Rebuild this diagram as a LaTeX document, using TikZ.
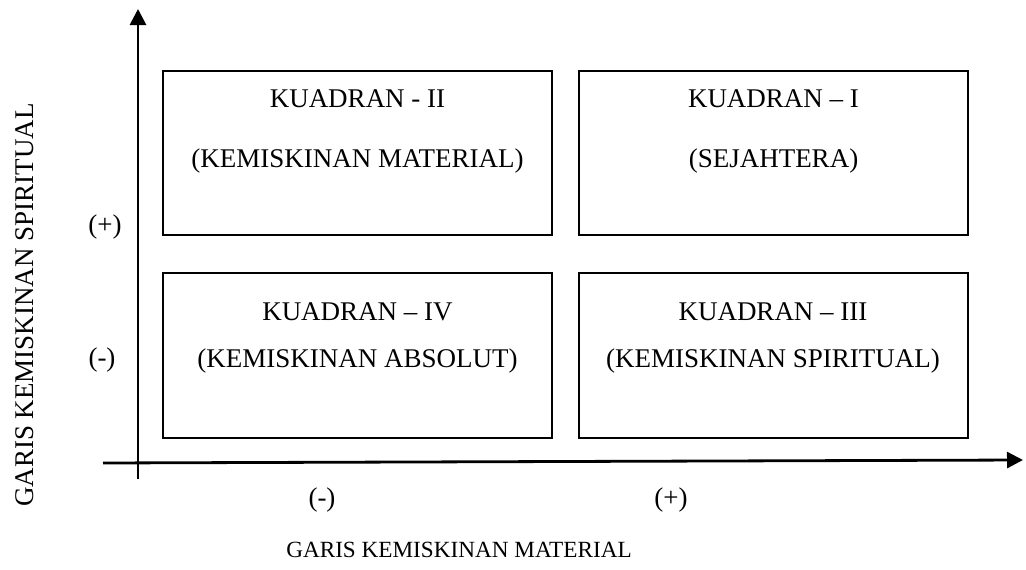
\documentclass[tikz,border=0pt]{standalone}
\usepackage{fontspec}
\setmainfont{Liberation Serif}
\usetikzlibrary{arrows.meta}
\begin{document}
\begin{tikzpicture}[x=1pt,y=-1pt,
  quad/.style={draw, line width=2pt, minimum width=389pt, minimum height=164pt, inner sep=0pt},
  lbl/.style={font=\fontsize{27}{32}\selectfont, inner sep=0pt, anchor=base},
  axis/.style={line width=2.8pt, -{Triangle[length=16pt,width=16pt]}}
  ]
\useasboundingbox (0,0) rectangle (1026,570);
% quadrant boxes
\node[quad] (q2) at (357.5,153) {};
\node[quad] (q1) at (773.5,153) {};
\node[quad, minimum height=165pt] (q4) at (357.5,355.5) {};
\node[quad, minimum height=165pt] (q3) at (773,355.5) {};
% box texts
\node[lbl] (t2a) at (357.5,107) {KUADRAN - II};
\node[lbl] (t2b) at (357.5,167) {(KEMISKINAN MATERIAL)};
\node[lbl] (t1a) at (773.5,107) {KUADRAN – I};
\node[lbl] (t1b) at (773.5,167) {(SEJAHTERA)};
\node[lbl] (t4a) at (357.5,320) {KUADRAN – IV};
\node[lbl] (t4b) at (357.5,367) {(KEMISKINAN ABSOLUT)};
\node[lbl] (t3a) at (773,320) {KUADRAN – III};
\node[lbl] (t3b) at (773,367) {(KEMISKINAN SPIRITUAL)};
% axes
\coordinate (yb) at (138,479);
\coordinate (yt) at (138,9);
\coordinate (xl) at (103,463);
\coordinate (xr) at (1023,460);
\draw[axis] (yb) -- (yt);
\draw[axis] (xl) -- (xr);
% axis labels
\node[lbl] (yp) at (105,233) {(+)};
\node[lbl] (ym) at (102,366) {(-)};
\node[lbl, rotate=90] (ylab) at (33,305) {GARIS KEMISKINAN SPIRITUAL};
\node[lbl] (xm) at (322,506) {(-)};
\node[lbl] (xp) at (671,506) {(+)};
\node[lbl, font=\fontsize{23.2}{28}\selectfont] (xlab) at (459,557) {GARIS KEMISKINAN MATERIAL};
\end{tikzpicture}
\end{document}
